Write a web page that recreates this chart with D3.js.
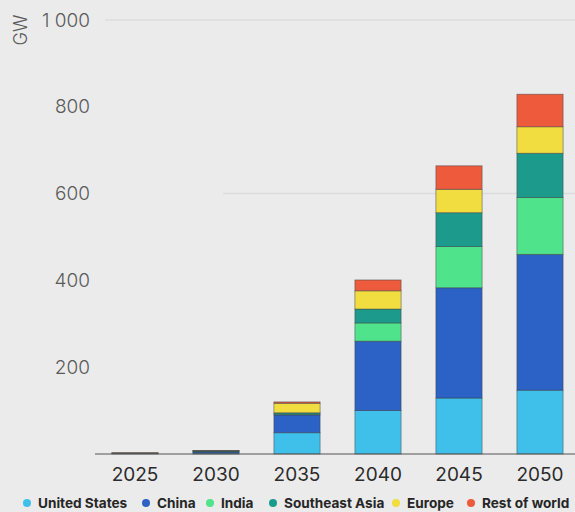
<!DOCTYPE html>
<html>
<head>
<meta charset="utf-8">
<script src="https://cdn.jsdelivr.net/npm/d3@7"></script>
<style>
  html, body { margin: 0; padding: 0; background: #ebebeb; }
  #chart { width: 575px; height: 512px; }
  text { font-family: Inter, "Open Sans", sans-serif; }
</style>
</head>
<body>
<div id="chart"></div>
<script>
// Data (GW)
const years = ['2025', '2030', '2035', '2040', '2045', '2050'];
const unitedStates = [1, 2, 49, 100, 129, 147];
const china = [1, 3, 41, 160, 254, 313];
const india = [0, 1, 2, 42, 95, 131];
const southeastAsia = [0, 1, 3, 32, 78, 102];
const europe = [0.5, 0.5, 22, 42, 54, 61];
const restOfWorld = [0.5, 0.5, 3, 25, 54, 75];
const yTicks = [200, 400, 600, 800, 1000];
const gridTicks = [600, 1000];

const seriesNames = ['United States', 'China', 'India', 'Southeast Asia', 'Europe', 'Rest of world'];
const seriesValues = [unitedStates, china, india, southeastAsia, europe, restOfWorld];
const colors = ['#3fc0ea', '#2c61c5', '#4fe38b', '#1c9a8b', '#f1dd3f', '#ee5a3c'];

// Build table for d3.stack
const table = years.map((year, i) => {
  const row = { year };
  seriesNames.forEach((name, s) => { row[name] = seriesValues[s][i]; });
  return row;
});

const width = 575;
const height = 512;

const svg = d3.select('#chart')
  .append('svg')
  .attr('width', width)
  .attr('height', height);

svg.append('rect')
  .attr('width', width)
  .attr('height', height)
  .attr('fill', '#ebebeb');

const x = d3.scaleBand()
  .domain(years)
  .range([94.5, 580.5])
  .paddingInner(0.43)
  .paddingOuter(0.215);

const y = d3.scaleLinear()
  .domain([0, 1000])
  .range([454, 20]);

// Faint gridlines
svg.append('g')
  .selectAll('line')
  .data(gridTicks)
  .enter()
  .append('line')
  .attr('x1', d => d === 1000 ? 105 : 223)
  .attr('x2', width)
  .attr('y1', d => y(d))
  .attr('y2', d => y(d))
  .attr('stroke', '#dcdcdc')
  .attr('stroke-width', 1.5);

// Stacked bars
const stacked = d3.stack().keys(seriesNames)(table);

svg.append('g')
  .selectAll('g')
  .data(stacked)
  .enter()
  .append('g')
  .attr('fill', (d, i) => colors[i])
  .selectAll('rect')
  .data(d => d)
  .enter()
  .append('rect')
  .attr('x', d => x(d.data.year))
  .attr('y', d => y(d[1]))
  .attr('width', x.bandwidth())
  .attr('height', d => Math.max(0, y(d[0]) - y(d[1])))
  .attr('stroke', '#3a3f44')
  .attr('stroke-opacity', 0.6)
  .attr('stroke-width', 0.8);

// X axis
const xAxis = svg.append('g')
  .attr('transform', `translate(0,${y(0)})`)
  .call(d3.axisBottom(x).tickSize(0).tickPadding(14));
xAxis.select('.domain')
  .attr('d', `M95,0H${width}`)
  .attr('stroke', '#555')
  .attr('stroke-width', 1.2);
xAxis.selectAll('text')
  .style('font-size', '19px')
  .style('font-family', 'Inter, sans-serif')
  .attr('fill', '#2b2b2b');

// Y axis (labels only)
const yAxis = svg.append('g')
  .attr('transform', 'translate(90,0)')
  .call(d3.axisLeft(y)
    .tickValues(yTicks)
    .tickSize(0)
    .tickPadding(0)
    .tickFormat(d => d3.format(',')(d).replace(',', ' ')));
yAxis.select('.domain').remove();
yAxis.selectAll('text')
  .style('font-size', '19px')
  .style('font-family', 'Inter, sans-serif')
  .style('font-weight', '300')
  .attr('fill', '#5a5a5a');

// Unit label
svg.append('text')
  .attr('transform', 'translate(27,30) rotate(-90)')
  .attr('text-anchor', 'middle')
  .style('font-size', '18px')
  .style('font-weight', '300')
  .attr('fill', '#5a5a5a')
  .text('GW');

// Legend
const legendX = [27, 146, 210, 273, 396, 471];
const legend = svg.append('g')
  .selectAll('g')
  .data(seriesNames)
  .enter()
  .append('g')
  .attr('transform', (d, i) => `translate(${legendX[i]},503)`);

legend.append('circle')
  .attr('r', 4)
  .attr('fill', (d, i) => colors[i]);

legend.append('text')
  .attr('x', 11)
  .attr('dy', '0.35em')
  .style('font-size', '13.6px')
  .style('font-weight', '700')
  .attr('fill', '#262626')
  .text(d => d);
</script>
</body>
</html>
